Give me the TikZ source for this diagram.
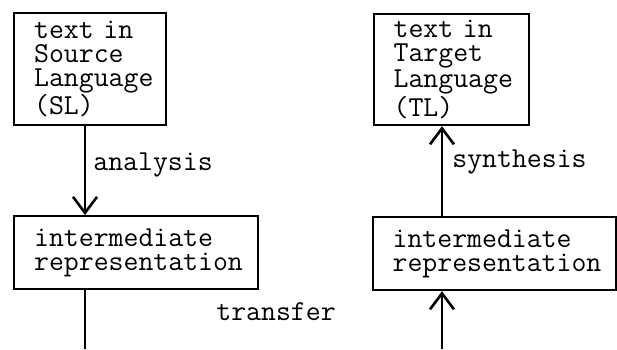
\documentclass[tikz,border=0pt]{standalone}
\usepackage{fontspec}
\usetikzlibrary{arrows.meta}
\begin{document}
\begin{tikzpicture}[x=0.5pt,y=-0.5pt,
  txt/.style={font=\fontsize{14.48pt}{12pt}\selectfont\ttfamily\addfontfeature{FakeBold=0.6}},
  box/.style={txt, draw, line width=1.1pt, anchor=north west, align=left,
    inner xsep=10pt, inner ysep=0pt},
  lbl/.style={txt, anchor=west, inner sep=0pt},
  flow/.style={line width=1.3pt},
  tip/.style={-{Straight Barb[length=8pt,width=12pt,line width=1.3pt]}}]
\useasboundingbox (0,0) rectangle (617,349);
\node[box, text width=56pt, minimum height=56pt] (tl) at (13,12) {text in\\Source\\Language\\(SL)};
\node[box, text width=58pt, minimum height=55.5pt, inner xsep=9.75pt] (tr) at (373,13) {text in\\Target\\Language\\(TL)};
\node[box, text width=102pt, minimum height=36.5pt] (ll) at (13,215) {intermediate\\representation};
\node[box, text width=102pt, minimum height=36.5pt, inner xsep=9.75pt] (rl) at (372,216) {intermediate\\representation};
\coordinate (ax) at (85,0);
\coordinate (bx) at (442,0);
\coordinate (lend) at (85,349);
\coordinate (rend) at (442,349);
\draw[flow, tip] (tl.south -| ax) -- (ll.north -| ax);
\draw[flow] (ll.south -| ax) -- (lend);
\draw[flow, tip] (rl.north -| bx) -- (tr.south -| bx);
\draw[flow, tip] (rend) -- (rl.south -| bx);
\node[lbl] (an) at (93,165) {analysis};
\node[lbl] (sy) at (452,162) {synthesis};
\node[lbl] (trf) at (216,312) {transfer};
\end{tikzpicture}
\end{document}
